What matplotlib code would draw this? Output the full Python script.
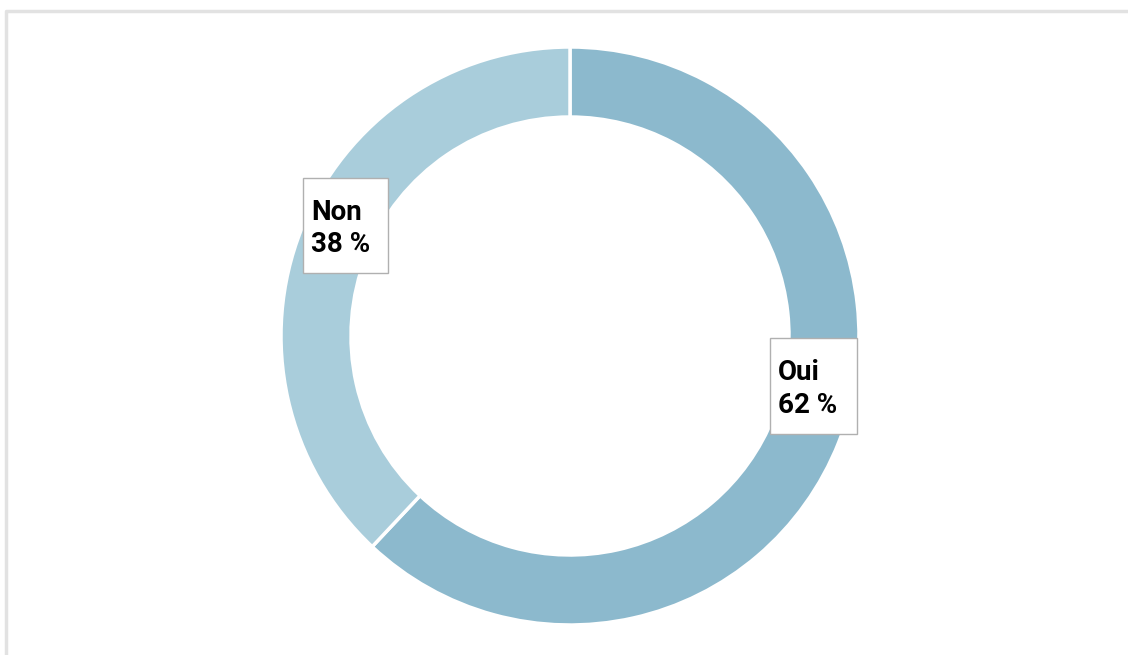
import matplotlib
matplotlib.use("Agg")
import matplotlib.pyplot as plt
from matplotlib.patches import Rectangle

# data
labels = ["Oui", "Non"]
values = [62, 38]
colors = ["#8cb9cd", "#a9cddb"]

W, H = 1128, 655
fig = plt.figure(figsize=(W / 100, H / 100), dpi=100)
ax = fig.add_axes([0, 0, 1, 1])

# light frame (only top/left visible in the original)
ax.plot([6, 6, W + 5], [-5, H - 11, H - 11], color="#e2e2e2", lw=2.5, solid_capstyle="butt")

# donut
cx, cy, r = 570, H - 336, 289
ax.pie(values, colors=colors, startangle=90, counterclock=False,
       center=(cx, cy), radius=r, frame=True,
       wedgeprops=dict(width=70, edgecolor="white", linewidth=2.5))
ax.set_xlim(0, W)
ax.set_ylim(0, H)
ax.set_aspect("equal")
ax.axis("off")

# label boxes: (left, top, right, bottom) in pixel coords
boxes = {"Oui": (770, 338, 857, 434), "Non": (303, 178, 388, 273)}
for lab, val in zip(labels, values):
    x0, y0, x1, y1 = boxes[lab]
    ax.add_patch(Rectangle((x0, H - y1), x1 - x0, y1 - y0, facecolor="white",
                           edgecolor="#b0b0b0", lw=1, zorder=5))
    ax.text(x0 + 8, H - (y0 + y1) / 2 - 3, "%s\n%d\u202f%%" % (lab, val), ha="left", va="center",
            fontsize=20, family=["Roboto", "DejaVu Sans"], weight="bold", linespacing=1.25,
            color="black", zorder=6)

fig.savefig("out.png", dpi=100)
